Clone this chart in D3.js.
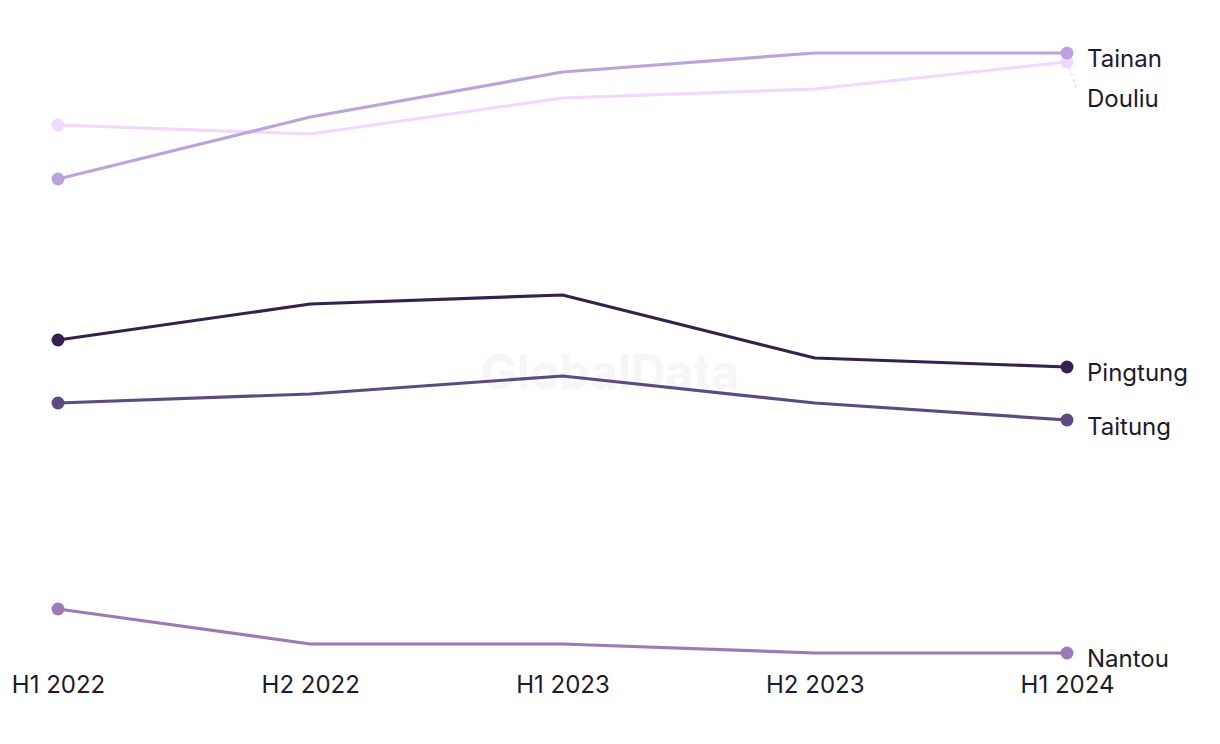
<!DOCTYPE html>
<html><head><meta charset="utf-8">
<script src="https://cdn.jsdelivr.net/npm/d3@7"></script>
<style>body{margin:0;background:#fff}svg{display:block}text{font-family:Inter,"Noto Sans",sans-serif}</style>
</head><body><svg id="c" width="1220" height="744"></svg>
<script>
const periods = ["H1 2022","H2 2022","H1 2023","H2 2023","H1 2024"];
const tainan   = [47.4, 53.6, 58.1, 60.0, 60.0];
const douliu   = [52.8, 51.9, 55.5, 56.4, 59.1];
const pingtung = [31.3, 34.9, 35.8, 29.5, 28.6];
const taitung  = [25.0, 25.9, 27.7, 25.0, 23.3];
const nantou   = [4.4, 0.9, 0.9, 0.0, 0.0];
const seriesNames = ["Douliu","Tainan","Pingtung","Taitung","Nantou"];
const seriesValues = [douliu, tainan, pingtung, taitung, nantou];
const colors = ["#f0d9fc","#bba3e0","#35214f","#5e4a82","#9a7bb8"];
const labelOffsets = [37, 6, 6, 7, 6];

const svg = d3.select("#c");
const x = d3.scalePoint().domain(periods).range([58, 1067]);
const y = d3.scaleLinear().domain([0, 60]).range([653, 53]);

svg.append("text").attr("x", 610).attr("y", 389).attr("text-anchor","middle")
  .attr("font-size", 48).attr("font-weight", 700).attr("fill", "#f6f6f6").text("GlobalData");

const line = d3.line().x((d,i)=>x(periods[i])).y(d=>y(d));
seriesValues.forEach((vals, k) => {
  const g = svg.append("g");
  g.append("path").datum(vals).attr("d", line).attr("fill","none")
    .attr("stroke", colors[k]).attr("stroke-width", 3.2).attr("stroke-linejoin","round");
  [0, vals.length-1].forEach(i => {
    g.append("circle").attr("cx", x(periods[i])).attr("cy", y(vals[i])).attr("r", 6.5).attr("fill", colors[k]);
  });
  const last = vals[vals.length-1];
  const ly = y(last) + labelOffsets[k];
  if (labelOffsets[k] > 10) {
    g.append("line").attr("x1", x(periods[4])).attr("y1", y(last))
      .attr("x2", x(periods[4]) + 10).attr("y2", ly - 10)
      .attr("stroke", colors[k]).attr("stroke-width", 1.5).attr("stroke-dasharray","3,3");
  }
  g.append("text").attr("x", 1087).attr("y", ly).attr("dy","0.35em")
    .attr("font-size", 24).attr("fill", "#1b1a2e").text(seriesNames[k]);
});

const ax = svg.append("g").attr("transform","translate(0,676)")
  .call(d3.axisBottom(x).tickSize(0).tickPadding(0));
ax.select(".domain").remove();
ax.selectAll("text").attr("font-size", 24).attr("fill", "#1b1a2e")
  .attr("font-family","Inter,'Noto Sans',sans-serif").attr("dy","0.71em");
</script></body></html>
